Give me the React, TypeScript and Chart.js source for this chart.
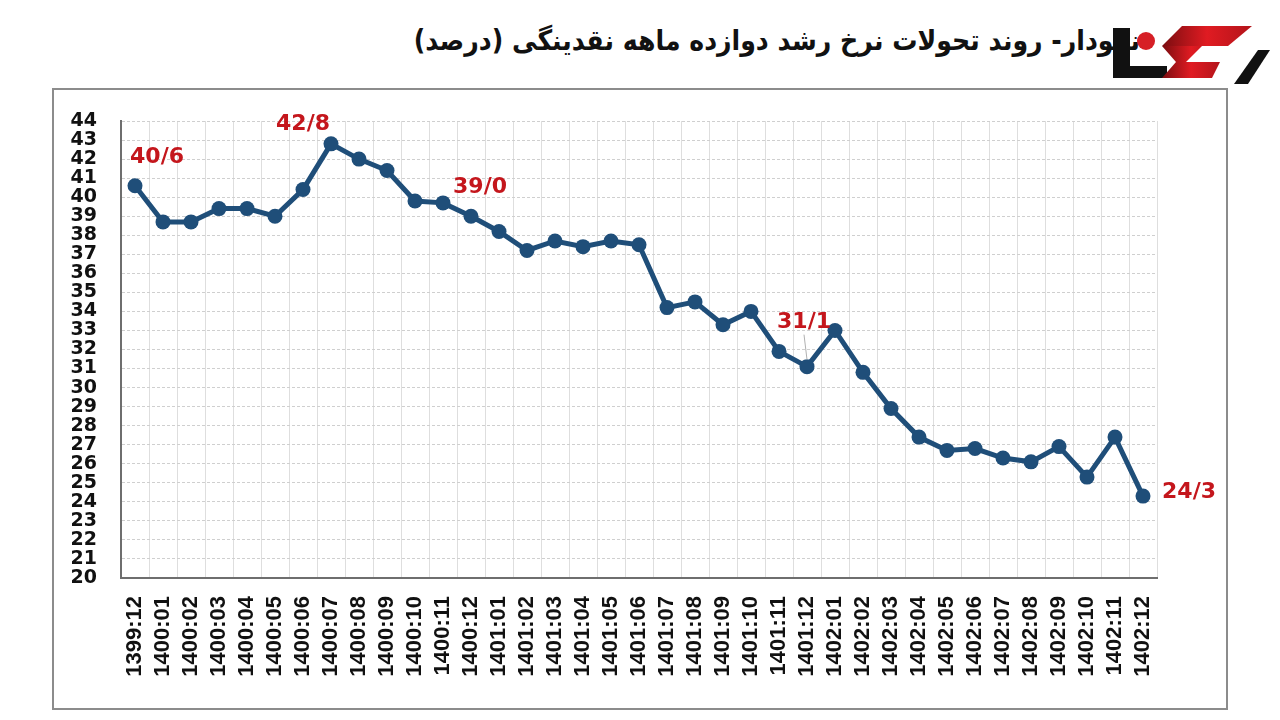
import React, { useEffect, useRef } from "react";
import { Chart, registerables } from "chart.js";

Chart.register(...registerables);

const categories: string[] = [
  "1399:12",
  "1400:01", "1400:02", "1400:03", "1400:04", "1400:05", "1400:06",
  "1400:07", "1400:08", "1400:09", "1400:10", "1400:11", "1400:12",
  "1401:01", "1401:02", "1401:03", "1401:04", "1401:05", "1401:06",
  "1401:07", "1401:08", "1401:09", "1401:10", "1401:11", "1401:12",
  "1402:01", "1402:02", "1402:03", "1402:04", "1402:05", "1402:06",
  "1402:07", "1402:08", "1402:09", "1402:10", "1402:11", "1402:12",
];

const growthValues: number[] = [
  40.6,
  38.7, 38.7, 39.4, 39.4, 39.0, 40.4,
  42.8, 42.0, 41.4, 39.8, 39.7, 39.0,
  38.2, 37.2, 37.7, 37.4, 37.7, 37.5,
  34.2, 34.5, 33.3, 34.0, 31.9, 31.1,
  33.0, 30.8, 28.9, 27.4, 26.7, 26.8,
  26.3, 26.1, 26.9, 25.3, 27.4, 24.3,
];

const annotationIndices: number[] = [0, 7, 12, 24, 36];
const annotationLabels: string[] = ["40/6", "42/8", "39/0", "31/1", "24/3"];

const titleText = "نمودار- روند تحولات نرخ رشد دوازده ماهه نقدینگی (درصد)";

const yMin = 20;
const yMax = 44;

// label placement relative to its point (style, not data)
const annotationOffsets: [number, number][] = [
  [22, -28],
  [-28, -20],
  [9, -29],
  [-3, -44],
  [46, -4],
];

const annotationPlugin = {
  id: "pointAnnotations",
  afterDatasetsDraw(chart: any) {
    const meta = chart.getDatasetMeta(0);
    const ctx = chart.ctx as CanvasRenderingContext2D;
    ctx.save();
    annotationIndices.forEach((idx, i) => {
      const el = meta.data[idx];
      if (!el) return;
      const [dx, dy] = annotationOffsets[i];
      const tx = el.x + dx;
      const ty = el.y + dy;
      if (i === 3) {
        ctx.strokeStyle = "#b0b0b0";
        ctx.lineWidth = 1;
        ctx.beginPath();
        ctx.moveTo(tx, ty + 12);
        ctx.lineTo(el.x, el.y - 7);
        ctx.stroke();
      }
      ctx.font = "bold 22px 'DejaVu Sans'";
      ctx.fillStyle = "#c4161c";
      ctx.textAlign = "center";
      ctx.textBaseline = "middle";
      ctx.fillText(annotationLabels[i], tx, ty);
    });
    ctx.restore();
  },
};

function Logo() {
  return (
    <svg
      width={170}
      height={80}
      viewBox="0 0 170 80"
      style={{ position: "absolute", left: 1100, top: 12 }}
    >
      <defs>
        <linearGradient id="rg" x1="0" y1="0" x2="1" y2="0">
          <stop offset="0" stopColor="#7a0d10" />
          <stop offset="0.5" stopColor="#e01b22" />
          <stop offset="1" stopColor="#b3141a" />
        </linearGradient>
      </defs>
      <rect x={13} y={16} width={17} height={50} fill="#111" />
      <rect x={13} y={54} width={54} height={12} fill="#111" />
      <circle cx={46} cy={29} r={9} fill="#d61f26" />
      <polygon points="82,14 152,14 128,34 62,34" fill="url(#rg)" />
      <polygon points="62,34 102,34 86,50 120,50 112,66 62,66 76,50" fill="url(#rg)" />
      <polygon points="158,38 170,38 148,72 134,72" fill="#111" />
    </svg>
  );
}

export default function App() {
  const canvasRef = useRef<HTMLCanvasElement | null>(null);

  useEffect(() => {
    if (!canvasRef.current) return;
    const chart = new Chart(canvasRef.current, {
      type: "line",
      data: {
        labels: categories,
        datasets: [
          {
            data: growthValues,
            borderColor: "#1f4e79",
            backgroundColor: "#1f4e79",
            borderWidth: 5,
            pointRadius: 7.5,
            pointBackgroundColor: "#1f4e79",
            pointBorderColor: "#1f4e79",
            pointBorderWidth: 0,
            tension: 0,
            clip: false as any,
          },
        ],
      },
      options: {
        responsive: false,
        animation: false,
        layout: { padding: { left: 0, top: 121, right: 123, bottom: 0 } },
        plugins: {
          legend: { display: false },
          tooltip: { enabled: false },
          title: { display: false },
        },
        scales: {
          x: {
            type: "category",
            offset: true,
            grid: {
              offset: true,
              color: "#dedede",
              lineWidth: 1,
              drawTicks: false,
            },
            border: { display: true, color: "#6e6e6e", width: 2 },
            ticks: {
              autoSkip: false,
              maxRotation: 90,
              minRotation: 90,
              padding: 18,
              color: "#111",
              font: { family: "'Liberation Sans', Arial", size: 22, weight: "bold" },
            },
            afterFit: (axis: any) => {
              axis.height = 142;
            },
          },
          y: {
            min: yMin,
            max: yMax,
            grid: {
              color: "#cfcfcf",
              lineWidth: 1,
              drawTicks: false,
            },
            border: { display: true, color: "#6e6e6e", width: 2, dash: [3, 2] as any },
            ticks: {
              stepSize: 1,
              autoSkip: false,
              padding: 24,
              color: "#111",
              font: { family: "'DejaVu Sans'", size: 19, weight: "bold" },
            },
            afterFit: (axis: any) => {
              axis.width = 121;
            },
          },
        },
      } as any,
      plugins: [annotationPlugin],
    });
    return () => chart.destroy();
  }, []);

  return (
    <div
      style={{
        position: "fixed",
        left: 0,
        top: 0,
        width: 1280,
        height: 720,
        background: "#ffffff",
        overflow: "hidden",
      }}
    >
      <div
        dir="rtl"
        style={{
          position: "absolute",
          right: 1280 - 1140,
          top: 24,
          fontFamily: "'DejaVu Sans Condensed', 'DejaVu Sans'",
          fontStretch: "condensed",
          fontWeight: "bold",
          fontSize: 28,
          color: "#111",
          whiteSpace: "nowrap",
        }}
      >
        {titleText}
      </div>
      <div
        style={{
          position: "absolute",
          left: 52,
          top: 88,
          width: 1172,
          height: 618,
          border: "2px solid #8c8c8c",
        }}
      />
      <canvas
        ref={canvasRef}
        width={1280}
        height={720}
        style={{ position: "absolute", left: 0, top: 0 }}
      />
      <Logo />
    </div>
  );
}
